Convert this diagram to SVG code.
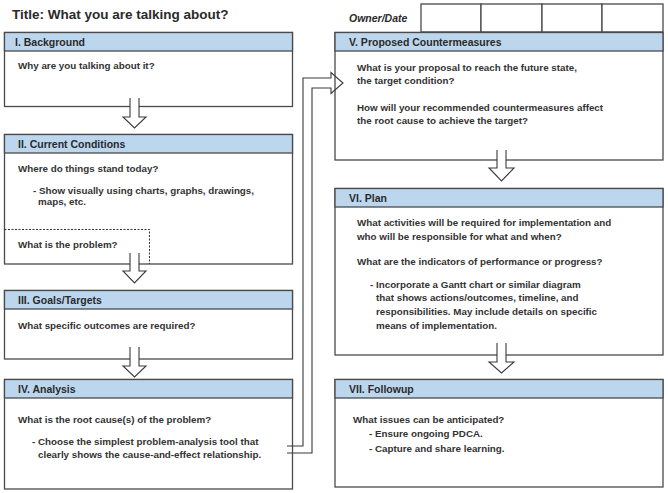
<svg xmlns="http://www.w3.org/2000/svg" width="668" height="493" viewBox="0 0 668 493">
<style>
  .box { fill: #ffffff; stroke: #4a4a4a; stroke-width: 1.3; }
  .hdr { fill: #bcd6ee; stroke: #4a4a4a; stroke-width: 1.3; }
  .ht { font-family: "Liberation Sans", Arial, sans-serif; font-size: 10.5px; font-weight: bold; fill: #2a2a2a; }
  .t { font-family: "Liberation Sans", Arial, sans-serif; font-size: 9.8px; font-weight: bold; fill: #333333; }
  .arrow { fill: #ffffff; stroke: #3a3a3a; stroke-width: 1.1; stroke-linejoin: miter; }
  .line { fill: none; stroke: #3a3a3a; stroke-width: 1.1; }
  .dash { fill: none; stroke: #333; stroke-width: 1; stroke-dasharray: 2 1.5; }
  .cell { fill: #ffffff; stroke: #4a4a4a; stroke-width: 1.3; }
</style>
<rect x="0" y="0" width="668" height="493" fill="#ffffff"/>

<g id="title">
  <text x="12" y="19" font-family="Liberation Sans, Arial, sans-serif" font-size="13.5" font-weight="bold" fill="#2a2a2a">Title: What you are talking about?</text>
</g>

<g id="owner-date">
  <text x="349" y="22" font-family="Liberation Sans, Arial, sans-serif" font-size="10.5" font-style="italic" font-weight="bold" fill="#2a2a2a">Owner/Date</text>
  <rect class="cell" x="421" y="4" width="60" height="28"/>
  <rect class="cell" x="481" y="4" width="61" height="28"/>
  <rect class="cell" x="542" y="4" width="60" height="28"/>
  <rect class="cell" x="602" y="4" width="61" height="28"/>
</g>

<g id="node-background">
  <rect class="box" x="4.5" y="32.5" width="288" height="74"/>
  <rect class="hdr" x="4.5" y="32.5" width="288" height="18.5"/>
  <text class="ht" x="15" y="45.5">I. Background</text>
  <text class="t" x="18" y="69">Why are you talking about it?</text>
</g>

<g id="node-current-conditions">
  <rect class="box" x="4.5" y="134.5" width="288" height="129.5"/>
  <rect class="hdr" x="4.5" y="134.5" width="288" height="18.5"/>
  <text class="ht" x="18" y="147.5">II. Current Conditions</text>
  <text class="t" x="18" y="172">Where do things stand today?</text>
  <text class="t" x="33" y="194">- Show visually using charts, graphs, drawings,</text>
  <text class="t" x="38" y="204.5">maps, etc.</text>
  <path class="dash" d="M4.5,229.5 H149.5 V264"/>
  <text class="t" x="18" y="247.5">What is the problem?</text>
</g>

<g id="node-goals">
  <rect class="box" x="4.5" y="290.5" width="288" height="68.5"/>
  <rect class="hdr" x="4.5" y="290.5" width="288" height="18.5"/>
  <text class="ht" x="18" y="303.5">III. Goals/Targets</text>
  <text class="t" x="18" y="328.5">What specific outcomes are required?</text>
</g>

<g id="node-analysis">
  <rect class="box" x="4.5" y="379.5" width="288" height="109.5"/>
  <rect class="hdr" x="4.5" y="379.5" width="288" height="18.5"/>
  <text class="ht" x="18" y="392.5">IV. Analysis</text>
  <text class="t" x="18" y="422.5">What is the root cause(s) of the problem?</text>
  <text class="t" x="32" y="444.5">- Choose the simplest problem-analysis tool that</text>
  <text class="t" x="38" y="458">clearly shows the cause-and-effect relationship.</text>
</g>

<g id="node-countermeasures">
  <rect class="box" x="335" y="32.5" width="328" height="127.5"/>
  <rect class="hdr" x="335" y="32.5" width="328" height="18.5"/>
  <text class="ht" x="349" y="45.5">V. Proposed  Countermeasures</text>
  <text class="t" x="357" y="71">What is your proposal to reach the future state,</text>
  <text class="t" x="357" y="84">the target condition?</text>
  <text class="t" x="357" y="111">How will your recommended countermeasures affect</text>
  <text class="t" x="357" y="124">the root cause to achieve the target?</text>
</g>

<g id="node-plan">
  <rect class="box" x="335" y="188.5" width="328" height="166.5"/>
  <rect class="hdr" x="335" y="188.5" width="328" height="18.5"/>
  <text class="ht" x="349" y="201.5">VI. Plan</text>
  <text class="t" x="357" y="226">What activities will be required for implementation and</text>
  <text class="t" x="357" y="239.5">who will be responsible for what and when?</text>
  <text class="t" x="357" y="264.5">What are the indicators of performance or progress?</text>
  <text class="t" x="370" y="287.5">- Incorporate a Gantt chart or similar diagram</text>
  <text class="t" x="376" y="301">that shows actions/outcomes, timeline, and</text>
  <text class="t" x="376" y="314.5">responsibilities. May include details on specific</text>
  <text class="t" x="376" y="329">means of implementation.</text>
</g>

<g id="node-followup">
  <rect class="box" x="335" y="379.5" width="328" height="107.5"/>
  <rect class="hdr" x="335" y="379.5" width="328" height="18.5"/>
  <text class="ht" x="349" y="392.5">VII. Followup</text>
  <text class="t" x="353" y="422.5">What issues can be anticipated?</text>
  <text class="t" x="369" y="436.5">- Ensure ongoing PDCA.</text>
  <text class="t" x="369" y="451.5">- Capture and share learning.</text>
</g>

<g id="connectors">
  <path class="arrow" d="M130,98 V117 H123 L134.5,128 L146,117 H139 V98"/>
  <path class="arrow" d="M130,253 V271 H123 L134.5,283 L146,271 H139 V253"/>
  <path class="arrow" d="M130,347 V366 H123 L134.5,377 L146,366 H139 V347"/>
  <path class="arrow" d="M497,150 V168 H489 L501.5,181 L514,168 H506 V150"/>
  <path class="arrow" d="M497,343 V362 H489 L501.5,373 L514,362 H506 V343"/>
  <path class="line" d="M287,446 H303 V78 H331 V72.5 L343,83 L331,93.5 V88 H312 V453 H287"/>
</g>
</svg>
